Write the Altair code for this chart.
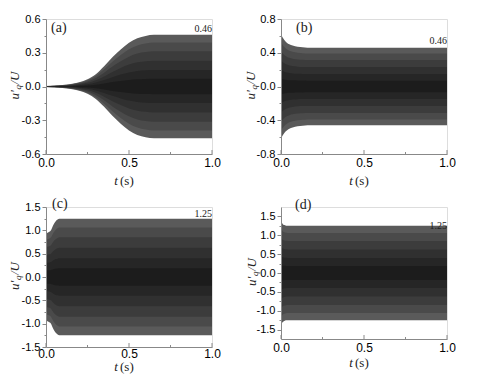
import altair as alt
import pandas as pd

# ---- data (envelope amplitude of u'_q/U vs t) ----
t_a = [0.0, 0.05, 0.1, 0.15, 0.2, 0.25, 0.3, 0.35, 0.4, 0.45, 0.5, 0.55, 0.6, 0.65, 0.7, 1.0]
amp_a = [0.005, 0.008, 0.013, 0.022, 0.038, 0.065, 0.11, 0.18, 0.26, 0.33, 0.39, 0.43, 0.45, 0.46, 0.46, 0.46]

t_b = [0.0, 0.01, 0.02, 0.035, 0.05, 0.07, 0.1, 0.13, 0.16, 0.2, 1.0]
amp_b = [0.62, 0.58, 0.55, 0.52, 0.50, 0.485, 0.47, 0.465, 0.46, 0.46, 0.46]

t_c = [0.0, 0.01, 0.02, 0.03, 0.04, 0.05, 0.06, 0.07, 0.08, 0.1, 1.0]
amp_c = [0.94, 0.95, 0.97, 1.0, 1.08, 1.15, 1.2, 1.23, 1.25, 1.25, 1.25]

t_d = [0.0, 0.005, 0.01, 0.02, 0.03, 0.04, 1.0]
amp_d = [1.38, 1.34, 1.30, 1.27, 1.255, 1.25, 1.25]

labels = ["(a)", "(b)", "(c)", "(d)"]
final_values = ["0.46", "0.46", "1.25", "1.25"]
final_amp = [0.46, 0.46, 1.25, 1.25]

y_ticks_a = [-0.6, -0.3, 0.0, 0.3, 0.6]
y_ticks_b = [-0.8, -0.4, 0.0, 0.4, 0.8]
y_ticks_c = [-1.5, -1.0, -0.5, 0.0, 0.5, 1.0, 1.5]
y_ticks_d = [-1.5, -1.0, -0.5, 0.0, 0.5, 1.0, 1.5]
x_ticks = [0.0, 0.5, 1.0]

FONT = "Liberation Serif, Times New Roman, serif"
AXIS_COL = "#8a8a8a"
TEXT_COL = "#222222"
BAND_FRAC = [1.0, 0.85, 0.68, 0.5, 0.32, 0.15]
BAND_COL = ["#5a5a5a", "#4a4a4a", "#3c3c3c", "#303030", "#262626", "#1c1c1c"]


def with_minor(major):
    vals = []
    for i, v in enumerate(major):
        vals.append(v)
        if i < len(major) - 1:
            vals.append((v + major[i + 1]) / 2)
    return vals


def lab_expr(major):
    arr = "[" + ",".join(str(v) for v in major) + "]"
    test = "indexof(" + arr + ", datum.value) >= 0"
    expr = test + " ? (datum.value < 0 ? '-' : '') + format(abs(datum.value), '.1f') : ''"
    return expr, test


def panel(t, amp, ydom, yticks, w, h, label, lab_xy, ann, ann_val, ann_base, ann_dy,
          ytitle_dx, xtitle_dy, xlab_pad):
    df = pd.DataFrame({"t": t, "amp": amp})
    xs = alt.Scale(domain=[0, 1], nice=False)
    ys = alt.Scale(domain=ydom, nice=False, zero=False)
    yl_expr, y_test = lab_expr(yticks)
    xl_expr, x_test = lab_expr(x_ticks)
    xaxis = alt.Axis(values=with_minor(x_ticks), labelExpr=xl_expr,
                     tickSize=0, labelPadding=xlab_pad, labelFontSize=12,
                     labelFlush=False, labelOverlap=False, zindex=1,
                     title=None, grid=False)
    yaxis = alt.Axis(values=with_minor(yticks), labelExpr=yl_expr,
                     tickSize={"condition": {"test": y_test, "value": 4}, "value": 2},
                     labelPadding=2, labelFontSize=11, labelFlush=False,
                     labelOverlap=False, zindex=1, title=None, grid=False)
    layers = []
    for f, c in zip(BAND_FRAC, BAND_COL):
        base = alt.Chart(df).transform_calculate(
            lo=f"-datum.amp*{f}", hi=f"datum.amp*{f}")
        layers.append(base.mark_area(color=c, opacity=1, interpolate="monotone").encode(
            x=alt.X("t:Q", scale=xs, axis=xaxis),
            y=alt.Y("lo:Q", scale=ys, axis=yaxis),
            y2="hi:Q"))

    # inward x ticks
    xt = pd.DataFrame({"v": with_minor(x_ticks)})
    xt["major"] = [i % 2 == 0 for i in range(len(xt))]
    layers.append(alt.Chart(xt[xt.major]).mark_rule(color=AXIS_COL).encode(
        x=alt.X("v:Q", scale=xs, axis=xaxis), y=alt.value(h - 4), y2=alt.value(h)))
    layers.append(alt.Chart(xt[~xt.major]).mark_rule(color=AXIS_COL).encode(
        x=alt.X("v:Q", scale=xs, axis=xaxis), y=alt.value(h - 2), y2=alt.value(h)))

    # annotation of final amplitude
    adf = pd.DataFrame({"t": [1.0], "v": [ann_val], "s": [ann]})
    layers.append(alt.Chart(adf).mark_text(align="right", baseline=ann_base, dy=ann_dy,
                                           font=FONT, fontSize=10, color=TEXT_COL).encode(
        x=alt.X("t:Q", scale=xs, axis=xaxis), y=alt.Y("v:Q", scale=ys, axis=yaxis), text="s:N"))

    one = pd.DataFrame({"k": [0]})
    # panel label
    layers.append(alt.Chart(one).mark_text(align="left", baseline="middle", font=FONT,
                                           fontSize=14, color=TEXT_COL).encode(
        x=alt.value(lab_xy[0]), y=alt.value(lab_xy[1]), text=alt.value(label)))

    # y title  u'_q / U  (rotated)
    cy = h / 2 - 1
    yx = ytitle_dx
    layers.append(alt.Chart(one).mark_text(align="left", baseline="middle", angle=270, font=FONT,
                                           fontSize=13, fontStyle="italic", color=TEXT_COL).encode(
        x=alt.value(yx), y=alt.value(cy + 14), text=alt.value("u\u2032")))
    layers.append(alt.Chart(one).mark_text(align="left", baseline="middle", angle=270, font=FONT,
                                           fontSize=9, fontStyle="italic", color=TEXT_COL).encode(
        x=alt.value(yx + 3), y=alt.value(cy + 4), text=alt.value("q")))
    layers.append(alt.Chart(one).mark_text(align="left", baseline="middle", angle=270, font=FONT,
                                           fontSize=13, fontStyle="italic", color=TEXT_COL).encode(
        x=alt.value(yx), y=alt.value(cy - 1), text=alt.value("/U")))

    # x title  t (s)
    cx = w / 2
    layers.append(alt.Chart(one).mark_text(align="center", baseline="middle", font=FONT,
                                           fontSize=13, fontStyle="italic", color=TEXT_COL).encode(
        x=alt.value(cx - 13), y=alt.value(h + xtitle_dy), text=alt.value("t")))
    layers.append(alt.Chart(one).mark_text(align="left", baseline="middle", font=FONT,
                                           fontSize=13, color=TEXT_COL).encode(
        x=alt.value(cx - 9), y=alt.value(h + xtitle_dy), text=alt.value("(s)")))

    return alt.layer(*layers).properties(width=w, height=h)


W = 166
pa = panel(t_a, amp_a, [-0.6, 0.6], y_ticks_a, W, 135, labels[0], (5, 9),
           final_values[0], final_amp[0], "bottom", -1, -31, 27, 3)
pb = panel(t_b, amp_b, [-0.8, 0.8], y_ticks_b, W, 135, labels[1], (15, 9),
           final_values[1], final_amp[1], "bottom", -2, -30, 27, 3)
pc = panel(t_c, amp_c, [-1.5, 1.5], y_ticks_c, W, 140, labels[2], (6, -3),
           final_values[2], final_amp[2], "bottom", 0, -31, 20, 1)
pd_ = panel(t_d, amp_d, [-1.75, 1.75], y_ticks_d, W, 132, labels[3], (14, -2),
            final_values[3], final_amp[3], "middle", 0, -29, 24, 3)

chart = alt.concat(pa, pb, pc, pd_, columns=2, spacing={"row": 53, "column": 69},
                   bounds="flush").properties(
    padding={"left": 0, "top": 4, "right": 0, "bottom": 0}
).configure_view(strokeWidth=0).configure_axis(
    domainColor=AXIS_COL, tickColor=AXIS_COL, labelColor=TEXT_COL, labelFont=FONT,
    domainWidth=1, tickWidth=1, labelOverlap=False
).configure(background="white")

chart.save("out.html", embed_options={"renderer": "svg", "actions": False})
